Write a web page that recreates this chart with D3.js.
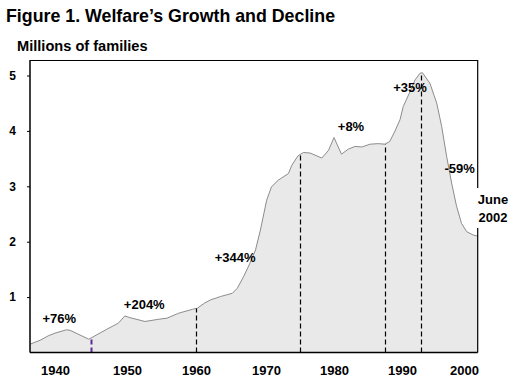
<!DOCTYPE html>
<html>
<head>
<meta charset="utf-8">
<script src="https://cdn.jsdelivr.net/npm/d3@7/dist/d3.min.js"></script>
<style>
  html, body { margin: 0; padding: 0; background: #fff; }
  svg { display: block; font-family: "Liberation Sans", Arial, sans-serif; }
  text { font-weight: bold; fill: #000; }
</style>
</head>
<body>
<svg id="chart" width="518" height="389"></svg>
<script>
// ---- Data (millions of families, AFDC/TANF caseload) ----
const years = [1936.0, 1937.6, 1938.9, 1940.0, 1941.6, 1942.1, 1944.7, 1947.2, 1948.8, 1949.7,
  1950.4, 1952.6, 1954.6, 1955.8, 1957.5, 1959.5, 1960.2, 1961.2, 1962.1, 1963.5,
  1965.2, 1965.9, 1966.8, 1967.7, 1968.5, 1969.2, 1970.1, 1970.8, 1971.8, 1973.3,
  1973.8, 1974.7, 1975.5, 1976.5, 1978.2, 1979.2, 1980.0, 1981.1, 1982.1, 1983.1,
  1984.1, 1985.3, 1986.5, 1987.5, 1988.2, 1988.9, 1989.7, 1990.2, 1991.3, 1992.1,
  1992.9, 1993.3, 1994.5, 1995.6, 1996.4, 1997.2, 1998.0, 1998.8, 1999.6, 2000.5,
  2001.7, 2002.5];
const families = [0.15, 0.22, 0.30, 0.35, 0.41, 0.40, 0.24, 0.42, 0.53, 0.66,
  0.63, 0.56, 0.60, 0.62, 0.71, 0.78, 0.80, 0.89, 0.95, 1.01,
  1.07, 1.16, 1.37, 1.61, 1.85, 2.21, 2.75, 2.99, 3.11, 3.23,
  3.38, 3.55, 3.61, 3.60, 3.51, 3.65, 3.88, 3.58, 3.67, 3.72,
  3.71, 3.76, 3.77, 3.76, 3.81, 3.98, 4.20, 4.44, 4.71, 4.92,
  5.04, 5.05, 4.86, 4.50, 4.08, 3.54, 3.06, 2.64, 2.33, 2.18,
  2.12, 2.10];
const xTickYears = [1940, 1950, 1960, 1970, 1980, 1990, 2000];
const yTickValues = [1, 2, 3, 4, 5];
const breakYears = [1945, 1960, 1975, 1987.5, 1993];
const breakColors = ["#5b2c91", "#000", "#000", "#000", "#000"];
const changeLabels = ["+76%", "+204%", "+344%", "+8%", "+35%", "-59%"];
const changeAtYear = [1940.6, 1952.5, 1965.6, 1982.5, 1991.3, 1999.3];
const changeAtValue = [0.53, 0.78, 1.64, 3.99, 4.70, 3.24];
const title = "Figure 1. Welfare\u2019s Growth and Decline";
const yTitle = "Millions of families";
const endLabel = ["June", "2002"];

// ---- Layout ----
(function draw() {
const svg = d3.select("#chart");
const L = 30, R = 477.7, T = 60, B = 352.5;

const x = d3.scaleLinear()
  .domain([1936, 1940, 1950, 1960, 1970, 1980, 1990, 2000, 2002.5])
  .range([L, 55, 127, 196, 266, 334, 402, 464, R]);
const y = d3.scaleLinear().domain([0, 5]).range([B, 75.5]);

const data = years.map((yr, i) => ({ yr, v: families[i] }));

// area
svg.append("path")
  .datum(data)
  .attr("fill", "#e9e9e9")
  .attr("d", d3.area().x(d => x(d.yr)).y0(B).y1(d => y(d.v)));
svg.append("path")
  .datum(data)
  .attr("fill", "none")
  .attr("stroke", "#8c8c8c")
  .attr("stroke-width", 1)
  .attr("d", d3.line().x(d => x(d.yr)).y(d => y(d.v)));

function valueAt(yr) {
  const i = d3.bisector(d => d.yr).left(data, yr);
  if (i <= 0) return data[0].v;
  if (i >= data.length) return data[data.length - 1].v;
  const a = data[i - 1], b = data[i];
  return a.v + (b.v - a.v) * (yr - a.yr) / (b.yr - a.yr);
}

// dashed period breaks
svg.selectAll("line.brk")
  .data(breakYears)
  .join("line")
  .attr("class", "brk")
  .attr("x1", d => Math.round(x(d)) + 0.5)
  .attr("x2", d => Math.round(x(d)) + 0.5)
  .attr("y1", B)
  .attr("y2", d => y(valueAt(d)))
  .attr("stroke", (d, i) => breakColors[i])
  .attr("stroke-width", (d, i) => i === 0 ? 2 : 1.2)
  .attr("stroke-dasharray", "5,3");

// frame
svg.append("path")
  .attr("d", `M${L},${T + 0.5}H${R}V${B}`)
  .attr("fill", "none").attr("stroke", "#000").attr("stroke-width", 1.2);

// axes
const yAxis = svg.append("g")
  .attr("transform", `translate(${L},0)`)
  .call(d3.axisLeft(y).tickValues(yTickValues).tickSize(3).tickPadding(11).tickFormat(d3.format("d")));
yAxis.select(".domain").remove();
yAxis.append("line").attr("x1", 0).attr("x2", 0).attr("y1", T).attr("y2", B)
  .attr("stroke", "#000").attr("stroke-width", 1.5);
yAxis.selectAll(".tick text").attr("font-size", 12).attr("font-family", "Liberation Sans, Arial, sans-serif")
  .attr("font-weight", "bold").attr("fill", "#000");
yAxis.selectAll(".tick line").attr("stroke", "#000");

const xAxis = svg.append("g")
  .attr("transform", `translate(0,${B})`)
  .call(d3.axisBottom(x).tickValues(xTickYears).tickSize(0).tickPadding(13).tickFormat(d3.format("d")));
xAxis.select(".domain").remove();
xAxis.append("line").attr("x1", L).attr("x2", R).attr("y1", 0).attr("y2", 0)
  .attr("stroke", "#000").attr("stroke-width", 1.5);
xAxis.selectAll(".tick text").attr("font-size", 13).attr("font-family", "Liberation Sans, Arial, sans-serif")
  .attr("font-weight", "bold").attr("fill", "#000");

// change labels
svg.selectAll("text.chg")
  .data(changeLabels)
  .join("text")
  .attr("class", "chg")
  .attr("x", (d, i) => x(changeAtYear[i]))
  .attr("y", (d, i) => y(changeAtValue[i]))
  .attr("text-anchor", "middle")
  .attr("font-size", 13)
  .text(d => d);

// June 2002 label with white box interrupting frame
svg.append("rect").attr("x", 471).attr("y", 188).attr("width", 47).attr("height", 40).attr("fill", "#fff");
svg.selectAll("text.end")
  .data(endLabel)
  .join("text")
  .attr("class", "end")
  .attr("x", 493)
  .attr("y", (d, i) => 204 + i * 18)
  .attr("text-anchor", "middle")
  .attr("font-size", 13)
  .text(d => d);

// titles
svg.append("text").attr("x", 6).attr("y", 22).attr("font-size", 17.8).text(title);
svg.append("text").attr("x", 17).attr("y", 51).attr("font-size", 14.6).text(yTitle);
})();
</script>
</body>
</html>
